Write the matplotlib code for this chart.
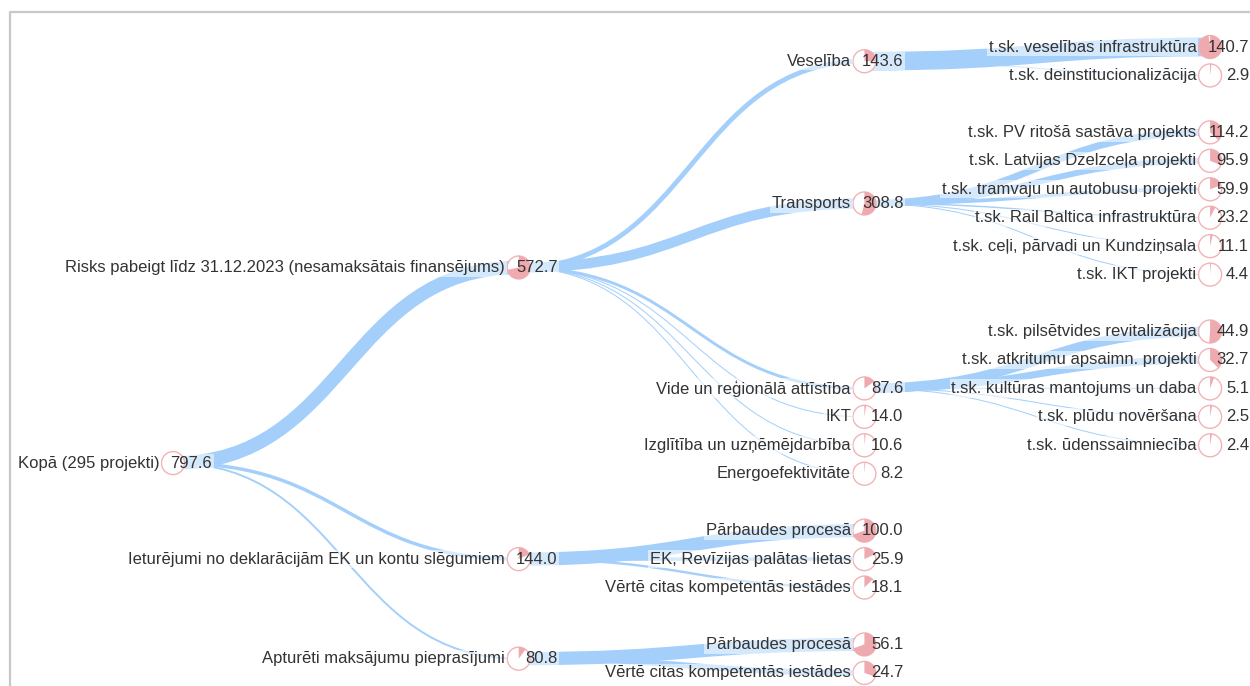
import numpy as np
import matplotlib.pyplot as plt
from matplotlib.path import Path
from matplotlib.patches import PathPatch, Circle, Wedge

plt.rcParams['font.family'] = ['Liberation Sans', 'DejaVu Sans']

# tree data: name, value, parent index
names = [
    "Kopā (295 projekti)",
    "Risks pabeigt līdz 31.12.2023 (nesamaksātais finansējums)",
    "Ieturējumi no deklarācijām EK un kontu slēgumiem",
    "Apturēti maksājumu pieprasījumi",
    "Veselība", "Transports", "Vide un reģionālā attīstība", "IKT",
    "Izglītība un uzņēmējdarbība", "Energoefektivitāte",
    "t.sk. veselības infrastruktūra", "t.sk. deinstitucionalizācija",
    "t.sk. PV ritošā sastāva projekts", "t.sk. Latvijas Dzelzceļa projekti",
    "t.sk. tramvaju un autobusu projekti", "t.sk. Rail Baltica infrastruktūra",
    "t.sk. ceļi, pārvadi un Kundziņsala", "t.sk. IKT projekti",
    "t.sk. pilsētvides revitalizācija", "t.sk. atkritumu apsaimn. projekti",
    "t.sk. kultūras mantojums un daba", "t.sk. plūdu novēršana",
    "t.sk. ūdenssaimniecība",
    "Pārbaudes procesā", "EK, Revīzijas palātas lietas",
    "Vērtē citas kompetentās iestādes",
    "Pārbaudes procesā", "Vērtē citas kompetentās iestādes",
]
values = [797.6, 572.7, 144.0, 80.8,
          143.6, 308.8, 87.6, 14.0, 10.6, 8.2,
          140.7, 2.9,
          114.2, 95.9, 59.9, 23.2, 11.1, 4.4,
          44.9, 32.7, 5.1, 2.5, 2.4,
          100.0, 25.9, 18.1,
          56.1, 24.7]
parents = [-1, 0, 0, 0,
           1, 1, 1, 1, 1, 1,
           4, 4,
           5, 5, 5, 5, 5, 5,
           6, 6, 6, 6, 6,
           2, 2, 2,
           3, 3]

n = len(names)
children = {i: [j for j in range(n) if parents[j] == i] for i in range(n)}
depth = [0] * n
for i in range(1, n):
    depth[i] = depth[parents[i]] + 1


def layout(node):
    # tidy tree: siblings 1 slot apart, cousins 2 slots apart, parent centred
    kids = children[node]
    if not kids:
        return {node: 0.0}, [(0.0, 0.0)]
    placed, contour = {}, []
    for i, k in enumerate(kids):
        pos, cont = layout(k)
        shift = 0.0
        if i > 0:
            shift = max(contour[d][1] + (1 if d == 0 else 2) - cont[d][0]
                        for d in range(min(len(contour), len(cont))))
        for key in pos:
            pos[key] += shift
        cont = [(a + shift, b + shift) for a, b in cont]
        for d, (a, b) in enumerate(cont):
            if d < len(contour):
                contour[d] = (min(contour[d][0], a), max(contour[d][1], b))
            else:
                contour.append((a, b))
        placed.update(pos)
    me = (placed[kids[0]] + placed[kids[-1]]) / 2
    placed[node] = me
    return placed, [(me, me)] + contour


slots, _ = layout(0)
smin = min(slots.values())
X = [173 + 345.7 * depth[i] for i in range(n)]
Y = [47 + 28.45 * (slots[i] - smin) for i in range(n)]

fig = plt.figure(figsize=(12.5, 6.86), dpi=100)
ax = fig.add_axes([0, 0, 1, 1])
ax.set_xlim(0, 1250)
ax.set_ylim(686, 0)
ax.axis('off')

# frame
ax.plot([10, 10, 1250], [686, 12, 12], color='#c8c8c8', lw=1.6, zorder=0)

link_color = '#a4cffa'
edge_pink = '#f2b3b7'
fill_pink = '#eeaaae'
r = 11.5

for i in range(1, n):
    p = parents[i]
    x0, y0, x1, y1 = X[p], Y[p], X[i], Y[i]
    xm = (x0 + x1) / 2
    path = Path([(x0, y0), (xm, y0), (xm, y1), (x1, y1)],
                [Path.MOVETO, Path.CURVE4, Path.CURVE4, Path.CURVE4])
    w = max(values[i] / values[p] * 19, 1.0)
    ax.add_patch(PathPatch(path, fill=False, edgecolor=link_color,
                           lw=w * 0.72, capstyle='butt', zorder=1))

for i in range(n):
    ax.add_patch(Circle((X[i], Y[i]), r, facecolor='white',
                        edgecolor=edge_pink, lw=1.0, zorder=2))
    if parents[i] >= 0:
        f = values[i] / values[parents[i]]
        ax.add_patch(Wedge((X[i], Y[i]), r, 270, 270 + 360 * f,
                           facecolor=fill_pink, edgecolor='none', zorder=2))

box = dict(boxstyle='square,pad=0.1', facecolor='white', edgecolor='none', alpha=0.55)
for i in range(n):
    ax.text(X[i] - r - 2, Y[i], names[i], ha='right', va='center',
            fontsize=12, color='#333333', bbox=box, zorder=3)
    vtxt = f"{values[i]:.1f}"
    # pale backing under the number, kept below the node circle
    ax.text(X[i] + 39, Y[i], vtxt, ha='right', va='center',
            fontsize=12, color='none', bbox=box, zorder=1.5)
    ax.text(X[i] + 39, Y[i], vtxt, ha='right', va='center',
            fontsize=12, color='#333333', zorder=3)

fig.savefig('out.png', dpi=100)
